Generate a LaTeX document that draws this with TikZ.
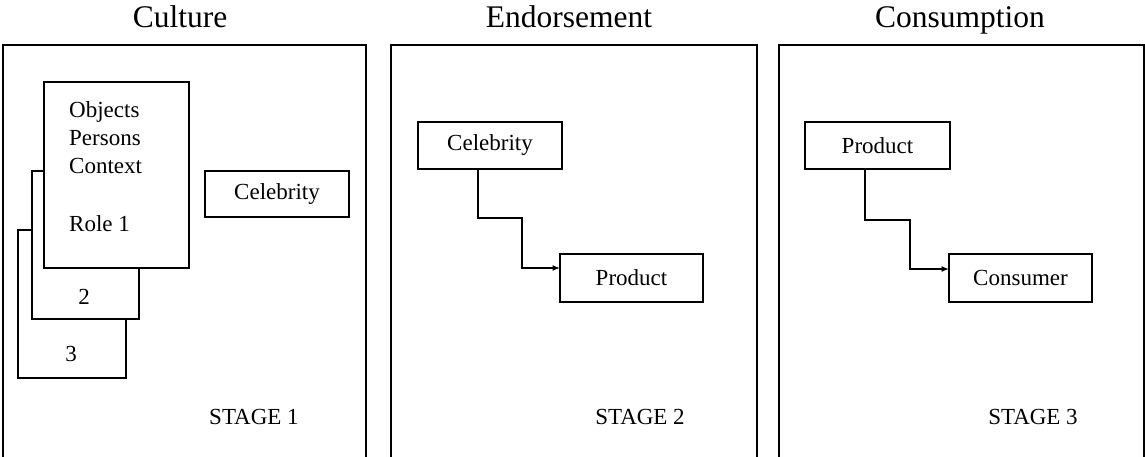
\documentclass[tikz,border=0pt]{standalone}
\usepackage{fontspec}
\setmainfont{Liberation Serif}
\usetikzlibrary{arrows.meta}
\begin{document}
\begin{tikzpicture}[x=1pt,y=-1pt,
  frame/.style={draw, line width=1.3pt},
  box/.style={draw, line width=1.3pt, fill=white, inner sep=0pt, outer sep=0pt,
    font=\fontsize{23}{28}\selectfont},
  txt/.style={font=\fontsize{23}{28}\selectfont, inner sep=0pt},
  ttl/.style={font=\fontsize{31.5}{36}\selectfont, inner sep=0pt, anchor=base},
  conn/.style={draw, line width=1.3pt, -{Latex[length=7.5pt,width=6pt]}}]
\useasboundingbox (0,0) rectangle (1145,457);
% panel frames (open at the bottom)
\draw[frame] (3,460) -- (3,45) -- (366,45) -- (366,460);
\draw[frame] (391,460) -- (391,45) -- (757,45) -- (757,460);
\draw[frame] (779,460) -- (779,45) -- (1144,45) -- (1144,460);
% titles
\node[ttl] (t1) at (180,28) {Culture};
\node[ttl] (t2) at (569,28) {Endorsement};
\node[ttl] (t3) at (960,28) {Consumption};
% stage 1
\node[box, minimum width=108pt, minimum height=148pt] (b3) at (72,304) {};
\node[box, minimum width=107pt, minimum height=148pt] (b2) at (85.5,245) {};
\node[box, minimum width=145pt, minimum height=186pt] (b1) at (116.5,175) {};
\node[txt, anchor=base] (n3) at (71,361) {3};
\node[txt, anchor=base] (n2) at (84,304) {2};
\node[txt, anchor=base west] (l1) at (69,118) {Objects};
\node[txt, anchor=base west] (l2) at (69,146) {Persons};
\node[txt, anchor=base west] (l3) at (69,174) {Context};
\node[txt, anchor=base west] (l4) at (69,231) {Role 1};
\node[box, minimum width=144pt, minimum height=46pt] (cel1) at (277,194) {Celebrity};
\node[txt, anchor=base] (s1) at (254,424.5) {STAGE 1};
% stage 2
\node[box, minimum width=144pt, minimum height=47pt] (cel2) at (490,145.5) {Celebrity};
\node[box, minimum width=143pt, minimum height=48pt] (prod2) at (631.5,278) {Product};
\draw[conn] ([xshift=-12pt]cel2.south) |- (522,218) |- ([yshift=10pt]prod2.west);
\node[txt, anchor=base] (s2) at (640,424.5) {STAGE 2};
% stage 3
\node[box, minimum width=145pt, minimum height=47pt] (prod3) at (877.5,145.5) {Product};
\node[box, minimum width=143pt, minimum height=48pt] (cons3) at (1020.5,278) {Consumer};
\draw[conn] ([xshift=-12.5pt]prod3.south) |- (910,220) |- ([yshift=9pt]cons3.west);
\node[txt, anchor=base] (s3) at (1033,424.5) {STAGE 3};
\end{tikzpicture}
\end{document}
